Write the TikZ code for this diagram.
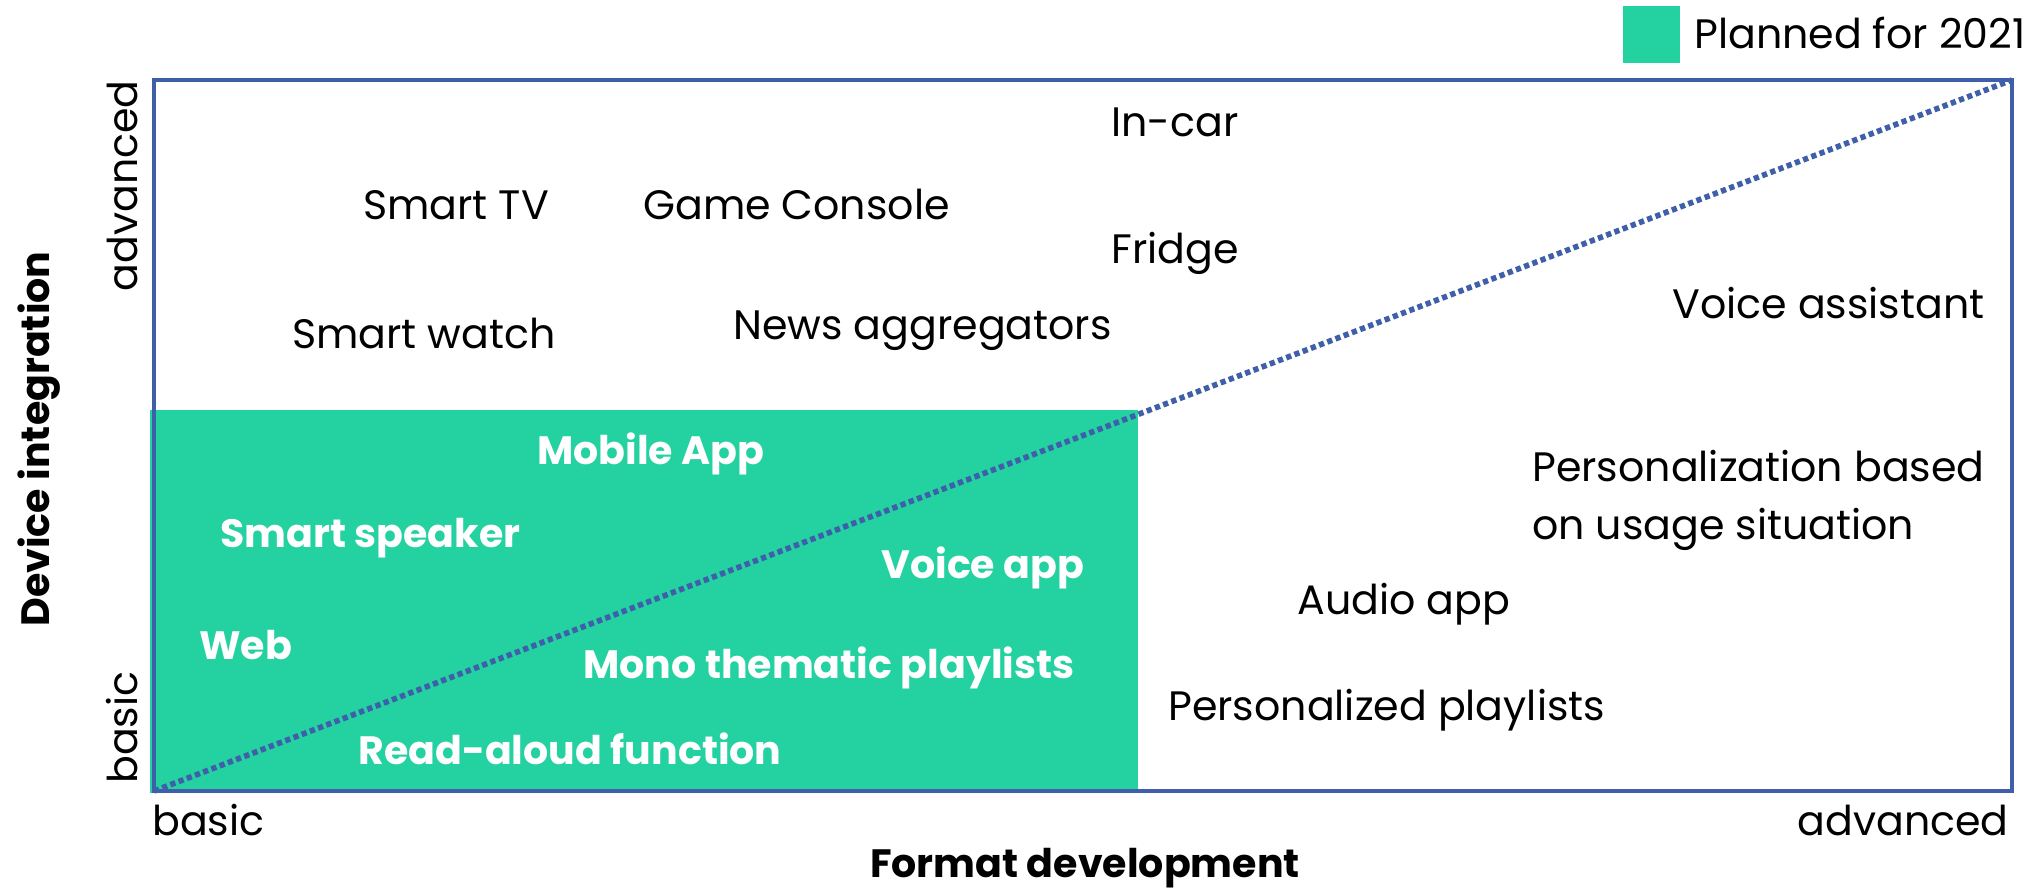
\documentclass[tikz,border=0pt]{standalone}
\usepackage{fontspec}
\setmainfont{Poppins}
\definecolor{frameblue}{HTML}{3F5FAA}
\definecolor{plangreen}{HTML}{24D1A1}

\begin{document}
\begin{tikzpicture}[x=0.02cm, y=-0.02cm,
    item/.style={inner sep=0pt, anchor=base west, font=\fontsize{23.4}{28}\selectfont},
    plan/.style={item, text=white, font=\fontsize{22.5}{27}\selectfont\bfseries},
    axis/.style={inner sep=0pt, font=\fontsize{23.4}{28}\selectfont},
    title/.style={inner sep=0pt, font=\fontsize{22.5}{27}\selectfont\bfseries},]
    \useasboundingbox (0,0) rectangle (2026,888);
    % planned area and legend
    \fill[plangreen] (150,410) rectangle (1138,793);
    \fill[plangreen] (1623,6) rectangle (1680,63);
    \node[item] (legend) at (1694,49) {Planned for 2021};
    % frame and diagonal
    \draw[frameblue, line width=2.5pt] (154,80) rectangle (2012,791);
    \coordinate (origin) at (154,791);
    \coordinate (corner) at (2012,80);
    \draw[frameblue, line width=3.2pt, dash pattern=on 3pt off 2pt] (origin) -- (corner);
    % axes
    \node[axis, rotate=90, anchor=base east] (yadv) at (137,80) {advanced};
    \node[axis, rotate=90, anchor=base west] (ybas) at (137,784) {basic};
    \node[title, rotate=90] (ytitle) at (39,439) {Device integration};
    \node[axis, anchor=base west] (xbas) at (152,835) {basic};
    \node[axis, anchor=base east] (xadv) at (2009,835) {advanced};
    \node[title] (xtitle) at (1085,868) {Format development};
    % not planned
    \node[item] (incar) at (1111,137) {In-car};
    \node[item] (smarttv) at (363,220) {Smart TV};
    \node[item] (console) at (643,220) {Game Console};
    \node[item] (fridge) at (1111,264) {Fridge};
    \node[item] (assistant) at (1672,319) {Voice assistant};
    \node[item] (watch) at (292,349) {Smart watch};
    \node[item] (news) at (733,340) {News aggregators};
    \node[item, align=left, anchor=north west, text depth=0pt] (situation) at (1532,450) {Personalization based\\[5pt]on usage situation};
    \node[item] (audio) at (1297,614) {Audio app};
    \node[item] (perplay) at (1168,720) {Personalized playlists};
    % planned for 2021
    \node[plan] (mobile) at (537,465) {Mobile App};
    \node[plan] (speaker) at (220,547) {Smart speaker};
    \node[plan] (voiceapp) at (881,579) {Voice app};
    \node[plan] (web) at (199,659) {Web};
    \node[plan] (mono) at (583,678) {Mono thematic playlists};
    \node[plan] (readaloud) at (358,764) {Read-aloud function};
\end{tikzpicture}
\end{document}
